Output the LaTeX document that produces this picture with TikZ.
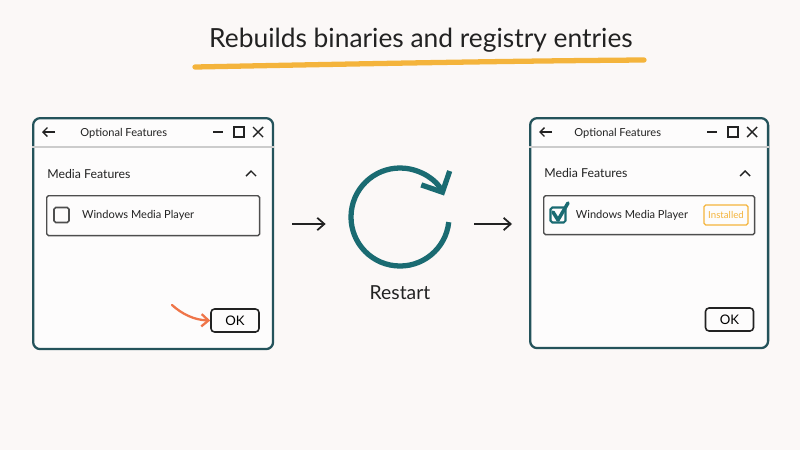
\documentclass[tikz,border=0pt]{standalone}
\usepackage{fontspec}
\setmainfont{Lato}
\usetikzlibrary{arrows.meta, positioning, calc}

\definecolor{paper}{HTML}{FBF8F7}
\definecolor{frame}{HTML}{24535B}
\definecolor{ringteal}{HTML}{1A6B72}
\definecolor{amber}{HTML}{F4B43C}
\definecolor{coral}{HTML}{EF7549}
\definecolor{ink}{HTML}{222222}

\tikzset{
  window/.style={draw=frame, line width=1.3pt, rounded corners=4pt, fill=white!60!paper, anchor=north west},
  itembox/.style={draw=ink!80, line width=0.8pt, rounded corners=1pt, anchor=north west},
  chkbox/.style={draw=ink!80, line width=0.9pt, rounded corners=1pt, minimum size=0.3cm, inner sep=0pt},
  btn/.style={draw=ink, line width=0.9pt, rounded corners=2pt, minimum width=0.96cm, minimum height=0.46cm, inner sep=0pt, font=\fontsize{7.5}{8}\selectfont},
  badge/.style={draw=amber, text=amber, line width=0.7pt, rounded corners=1pt, minimum width=0.88cm, minimum height=0.4cm, inner sep=1pt, font=\fontsize{5.5}{6}\selectfont},
  wintext/.style={anchor=west, text=ink, inner sep=0pt, font=\fontsize{6.3}{7}\selectfont},
  sectext/.style={anchor=west, text=ink, inner sep=0pt, font=\fontsize{7}{8}\selectfont},
  icon/.style={draw=ink, line width=0.8pt},
  flow/.style={->, draw=ink, line width=1pt},
}

\begin{document}
\begin{tikzpicture}[x=0.02cm, y=-0.02cm, >={Straight Barb[length=4pt, width=7pt]}]

  % Background and size
  \fill[paper] (0,0) rectangle (800,450);

  % Title
  \node[text=ink, font=\fontsize{15}{18}\selectfont] (title) at (421,40) {Rebuilds binaries and registry entries};
  \draw[amber, line width=3pt, line cap=round] (195,67) .. controls (350,64) and (500,61) .. (644,60);

  % Left window
  \node[window, minimum width=4.8cm, minimum height=4.62cm] (lwin) at (32,117) {};
  \draw[black!20, line width=1pt] ($(lwin.north west)+(0,30)$) -- ($(lwin.north east)+(0,30)$);
  \draw[icon, ->, >={Straight Barb[length=2.5pt, width=5pt]}] (55,132) -- (42,132);
  \node[wintext] (ltitle) at (80,133) {Optional Features};
  \draw[icon] (213,132) -- (223,132);
  \draw[icon] (234,127) rectangle (244,137);
  \draw[icon] (253,127) -- (263,137) (253,137) -- (263,127);
  \node[sectext] (lsection) at (47,174) {Media Features};
  \draw[icon] (246,176) -- (251,171) -- (256,176);
  \node[itembox, minimum width=4.26cm, minimum height=0.8cm] (litem) at (46,195) {};
  \node[chkbox] (lchk) at (61.5,215) {};
  \node[wintext, right=0.24cm of lchk] (lname) {Windows Media Player};
  \node[btn] (lok) at (235,320.5) {OK};
  \coordinate (lhint) at (172,305);
  \draw[coral, ->, line width=1.3pt, line cap=round] (lhint) .. controls (182,314) and (194,320) .. (lok.west);

  % Restart
  \node[circle, minimum size=1.96cm] (ring) at (400,217) {};
  \draw[ringteal, line width=3pt, ->, >={Straight Barb[length=9pt, width=18pt, line width=3pt]}]
    (ring.center) ++(6:49) arc[start angle=6, end angle=334, radius=49];
  \node[text=ink, font=\fontsize{11}{13}\selectfont, below=0.26cm of ring] (restart) {Restart};
  \coordinate (axis) at (400,224);

  % Right window
  \node[window, minimum width=4.76cm, minimum height=4.6cm] (rwin) at (529,117) {};
  \draw[black!20, line width=1pt] ($(rwin.north west)+(0,30)$) -- ($(rwin.north east)+(0,30)$);
  \draw[icon, ->, >={Straight Barb[length=2.5pt, width=5pt]}] (552,132) -- (539,132);
  \node[wintext] (rtitle) at (574,133) {Optional Features};
  \draw[icon] (707,132) -- (717,132);
  \draw[icon] (728,127) rectangle (738,137);
  \draw[icon] (747,127) -- (757,137) (747,137) -- (757,127);
  \node[sectext] (rsection) at (544,173) {Media Features};
  \draw[icon] (740,176) -- (745,171) -- (750,176);
  \node[itembox, minimum width=4.22cm, minimum height=0.78cm] (ritem) at (543,195) {};
  \node[chkbox, draw=ringteal, line width=1.2pt] (rchk) at (558,215) {};
  \draw[ringteal, line width=2pt, line cap=round, line join=round] (553,212) -- (558,220) -- (568,203);
  \node[wintext, right=0.18cm of rchk] (rname) {Windows Media Player};
  \node[badge] (rbadge) at (726,215) {Installed};
  \node[btn] (rok) at (729.5,319.5) {OK};

  % Arrows between the steps
  \draw[flow] ([xshift=0.36cm]lwin.east |- axis) -- ([xshift=-0.5cm]ring.west |- axis);
  \draw[flow] ([xshift=0.5cm]ring.east |- axis) -- ([xshift=-0.34cm]rwin.west |- axis);

\end{tikzpicture}
\end{document}
